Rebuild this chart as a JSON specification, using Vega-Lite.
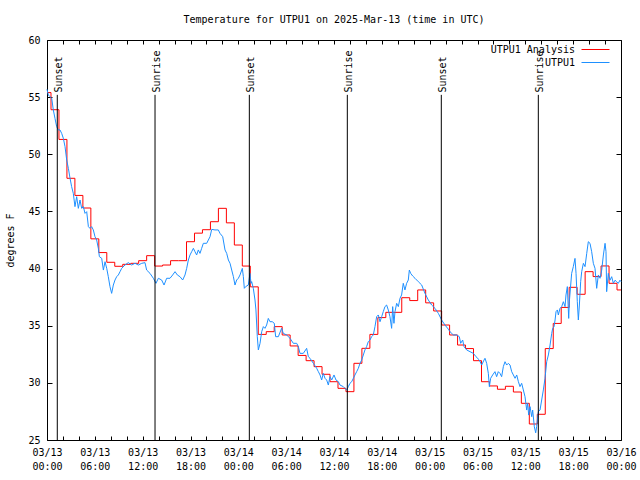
{
  "$schema": "https://vega.github.io/schema/vega-lite/v6.json",
  "width": 574,
  "height": 400,
  "autosize": {"type": "none"},
  "padding": {"left": 47, "top": 40, "right": 19, "bottom": 40},
  "background": "white",
  "title": {"text": "Temperature for UTPU1 on 2025-Mar-13 (time in UTC)", "font": "DejaVu Sans Mono", "fontSize": 10, "fontWeight": "normal", "color": "black", "anchor": "middle", "offset": 10},
  "config": {
    "view": {"stroke": "black", "strokeWidth": 1},
    "axis": {"labelFont": "DejaVu Sans Mono", "labelFontSize": 10, "labelColor": "black", "tickColor": "black", "tickWidth": 1, "domain": false, "grid": false, "titleFont": "DejaVu Sans Mono", "titleFontSize": 10, "titleFontWeight": "normal", "titleColor": "black"},
    "legend": {"labelFont": "DejaVu Sans Mono", "labelFontSize": 10, "labelColor": "black"}
  },
  "datasets": {
    "analysis": [
      {"h":0,"t":55.4},{"h":1,"t":53.9},{"h":2,"t":51.3},{"h":3,"t":47.9},{"h":4,"t":46.4},{"h":5,"t":45.3},{"h":6,"t":42.6},{"h":7,"t":41.4},{"h":8,"t":40.55},{"h":9,"t":40.2},{"h":10,"t":40.37},{"h":11,"t":40.46},{"h":12,"t":40.69},{"h":13,"t":41.13},{"h":14,"t":40.22},{"h":15,"t":40.31},{"h":16,"t":40.69},{"h":17,"t":40.69},{"h":18,"t":42.35},{"h":19,"t":43.1},{"h":20,"t":43.4},{"h":21,"t":44.1},{"h":22,"t":45.27},{"h":23,"t":44.0},{"h":24,"t":42.06},{"h":25,"t":40.22},{"h":26,"t":38.4},{"h":27,"t":34.24},{"h":28,"t":34.48},{"h":29,"t":34.92},{"h":30,"t":34.19},{"h":31,"t":33.23},{"h":32,"t":32.4},{"h":33,"t":31.94},{"h":34,"t":31.42},{"h":35,"t":30.75},{"h":36,"t":30.1},{"h":37,"t":29.52},{"h":38,"t":29.23},{"h":39,"t":31.71},{"h":40,"t":33.02},{"h":41,"t":34.24},{"h":42,"t":35.71},{"h":43,"t":36.17},{"h":44,"t":36.17},{"h":45,"t":37.45},{"h":46,"t":37.2},{"h":47,"t":38.13},{"h":48,"t":37.0},{"h":49,"t":36.29},{"h":50,"t":35.06},{"h":51,"t":34.19},{"h":52,"t":33.31},{"h":53,"t":33.0},{"h":54,"t":31.94},{"h":55,"t":30.1},{"h":56,"t":29.73},{"h":57,"t":29.44},{"h":58,"t":29.7},{"h":59,"t":29.2},{"h":60,"t":28.21},{"h":61,"t":26.4},{"h":62,"t":27.25},{"h":63,"t":33.0},{"h":64,"t":35.2},{"h":65,"t":36.6},{"h":66,"t":38.36},{"h":67,"t":37.75},{"h":68,"t":39.73},{"h":69,"t":39.3},{"h":70,"t":40.23},{"h":71,"t":38.71},{"h":72,"t":38.13}
    ],
    "obs": [
      {"h":0.0,"t":55.68},{"h":0.17,"t":55.19},{"h":0.38,"t":55.04},{"h":0.59,"t":54.9},{"h":0.79,"t":53.88},{"h":1.0,"t":53.15},{"h":1.21,"t":52.42},{"h":1.42,"t":52.13},{"h":1.63,"t":52.13},{"h":1.84,"t":51.83},{"h":2.05,"t":51.4},{"h":2.26,"t":50.67},{"h":2.47,"t":49.5},{"h":2.68,"t":48.77},{"h":2.89,"t":47.9},{"h":3.09,"t":47.17},{"h":3.3,"t":46.58},{"h":3.51,"t":45.42},{"h":3.72,"t":46.29},{"h":3.93,"t":45.27},{"h":4.14,"t":46.0},{"h":4.35,"t":45.27},{"h":4.56,"t":45.42},{"h":4.77,"t":44.83},{"h":4.98,"t":44.98},{"h":5.19,"t":43.67},{"h":5.39,"t":43.52},{"h":5.6,"t":43.67},{"h":5.81,"t":43.38},{"h":6.02,"t":42.79},{"h":6.23,"t":42.5},{"h":6.44,"t":41.77},{"h":6.57,"t":41.04},{"h":6.86,"t":40.9},{"h":7.07,"t":39.87},{"h":7.28,"t":40.6},{"h":7.49,"t":40.02},{"h":7.69,"t":39.29},{"h":7.9,"t":38.42},{"h":8.11,"t":37.83},{"h":8.32,"t":38.56},{"h":8.53,"t":39.0},{"h":8.74,"t":39.29},{"h":8.95,"t":39.44},{"h":9.16,"t":39.73},{"h":9.37,"t":40.02},{"h":9.78,"t":40.31},{"h":10.2,"t":40.52},{"h":10.62,"t":40.31},{"h":11.04,"t":40.46},{"h":11.46,"t":40.31},{"h":11.88,"t":40.46},{"h":12.29,"t":40.52},{"h":12.5,"t":39.87},{"h":12.92,"t":39.58},{"h":13.34,"t":39.15},{"h":13.67,"t":38.71},{"h":13.97,"t":39.15},{"h":14.38,"t":39.0},{"h":14.68,"t":38.56},{"h":15.01,"t":39.15},{"h":15.43,"t":39.15},{"h":15.76,"t":39.44},{"h":16.06,"t":39.73},{"h":16.35,"t":39.44},{"h":16.68,"t":39.29},{"h":17.02,"t":39.0},{"h":17.31,"t":39.44},{"h":17.52,"t":40.02},{"h":17.73,"t":40.75},{"h":17.94,"t":41.19},{"h":18.15,"t":41.48},{"h":18.36,"t":41.77},{"h":18.56,"t":41.48},{"h":18.77,"t":41.19},{"h":18.98,"t":41.63},{"h":19.19,"t":41.33},{"h":19.4,"t":41.77},{"h":19.61,"t":42.21},{"h":20.03,"t":42.21},{"h":20.45,"t":42.79},{"h":20.66,"t":43.43},{"h":21.07,"t":43.38},{"h":21.49,"t":43.38},{"h":21.7,"t":43.08},{"h":22.04,"t":42.79},{"h":22.33,"t":41.63},{"h":22.54,"t":41.33},{"h":22.75,"t":40.75},{"h":22.96,"t":40.46},{"h":23.17,"t":39.87},{"h":23.38,"t":39.29},{"h":23.58,"t":38.56},{"h":23.79,"t":39.0},{"h":24.0,"t":39.15},{"h":24.21,"t":39.44},{"h":24.5,"t":40.02},{"h":24.63,"t":39.29},{"h":24.75,"t":38.27},{"h":24.92,"t":38.42},{"h":25.25,"t":38.56},{"h":25.46,"t":39.58},{"h":25.59,"t":38.71},{"h":25.67,"t":38.86},{"h":25.88,"t":38.27},{"h":26.09,"t":37.25},{"h":26.21,"t":36.38},{"h":26.38,"t":34.04},{"h":26.51,"t":32.88},{"h":26.72,"t":33.46},{"h":26.93,"t":34.48},{"h":27.14,"t":34.92},{"h":27.34,"t":34.77},{"h":27.55,"t":35.06},{"h":27.76,"t":35.64},{"h":27.97,"t":35.35},{"h":28.26,"t":35.35},{"h":28.51,"t":35.21},{"h":28.68,"t":34.04},{"h":29.02,"t":34.04},{"h":29.43,"t":34.77},{"h":29.64,"t":34.33},{"h":30.06,"t":34.19},{"h":30.48,"t":33.9},{"h":30.9,"t":33.46},{"h":31.32,"t":33.46},{"h":31.53,"t":33.17},{"h":31.73,"t":32.58},{"h":32.15,"t":32.58},{"h":32.57,"t":33.02},{"h":32.78,"t":32.29},{"h":32.99,"t":32.15},{"h":33.41,"t":31.71},{"h":33.83,"t":31.27},{"h":34.04,"t":30.98},{"h":34.25,"t":30.69},{"h":34.45,"t":30.25},{"h":34.66,"t":30.83},{"h":34.87,"t":30.4},{"h":35.08,"t":30.25},{"h":35.29,"t":29.81},{"h":35.5,"t":30.54},{"h":35.71,"t":30.25},{"h":36.0,"t":30.69},{"h":36.25,"t":30.25},{"h":36.55,"t":30.1},{"h":36.75,"t":29.81},{"h":37.17,"t":29.67},{"h":37.38,"t":29.52},{"h":37.59,"t":29.38},{"h":37.8,"t":29.67},{"h":38.0,"t":29.96},{"h":38.22,"t":30.1},{"h":38.43,"t":30.4},{"h":38.63,"t":30.69},{"h":38.84,"t":30.98},{"h":39.05,"t":31.27},{"h":39.26,"t":31.71},{"h":39.47,"t":32.0},{"h":39.68,"t":32.44},{"h":39.88,"t":32.88},{"h":40.09,"t":33.17},{"h":40.3,"t":33.6},{"h":40.51,"t":33.75},{"h":40.72,"t":34.04},{"h":40.93,"t":34.19},{"h":41.14,"t":34.92},{"h":41.35,"t":35.79},{"h":41.56,"t":35.94},{"h":41.77,"t":35.35},{"h":41.98,"t":35.79},{"h":42.18,"t":36.23},{"h":42.39,"t":36.67},{"h":42.6,"t":36.81},{"h":42.81,"t":36.38},{"h":43.02,"t":35.79},{"h":43.23,"t":34.77},{"h":43.36,"t":36.67},{"h":43.52,"t":35.21},{"h":43.65,"t":36.23},{"h":43.86,"t":36.96},{"h":44.07,"t":36.67},{"h":44.28,"t":37.4},{"h":44.48,"t":37.69},{"h":44.69,"t":38.71},{"h":44.9,"t":38.13},{"h":45.11,"t":38.71},{"h":45.32,"t":39.0},{"h":45.45,"t":39.87},{"h":45.62,"t":39.58},{"h":45.87,"t":39.35},{"h":46.16,"t":39.15},{"h":46.58,"t":38.85},{"h":47.0,"t":38.56},{"h":47.41,"t":37.83},{"h":47.83,"t":37.25},{"h":48.25,"t":36.81},{"h":48.67,"t":36.52},{"h":49.09,"t":36.08},{"h":49.5,"t":35.5},{"h":49.92,"t":35.06},{"h":50.34,"t":34.7},{"h":50.55,"t":34.48},{"h":50.97,"t":34.19},{"h":51.39,"t":34.19},{"h":51.72,"t":34.04},{"h":51.89,"t":33.46},{"h":52.14,"t":33.75},{"h":52.31,"t":33.17},{"h":52.64,"t":32.88},{"h":53.06,"t":32.73},{"h":53.48,"t":32.58},{"h":53.81,"t":32.29},{"h":54.23,"t":32.0},{"h":54.52,"t":31.56},{"h":54.82,"t":32.0},{"h":54.94,"t":32.15},{"h":55.15,"t":31.71},{"h":55.36,"t":30.83},{"h":55.49,"t":29.67},{"h":55.65,"t":30.4},{"h":55.9,"t":30.69},{"h":56.19,"t":30.98},{"h":56.4,"t":30.54},{"h":56.61,"t":30.98},{"h":56.82,"t":30.83},{"h":57.03,"t":30.54},{"h":57.24,"t":31.42},{"h":57.45,"t":31.85},{"h":57.66,"t":31.56},{"h":57.87,"t":31.71},{"h":58.08,"t":31.56},{"h":58.29,"t":30.98},{"h":58.5,"t":30.69},{"h":58.71,"t":30.4},{"h":58.92,"t":30.69},{"h":59.13,"t":30.1},{"h":59.33,"t":29.67},{"h":59.54,"t":29.96},{"h":59.75,"t":29.38},{"h":59.96,"t":28.79},{"h":60.17,"t":27.62},{"h":60.29,"t":28.21},{"h":60.42,"t":27.18},{"h":60.59,"t":27.92},{"h":60.8,"t":27.04},{"h":60.92,"t":27.62},{"h":61.13,"t":26.16},{"h":61.3,"t":25.63},{"h":61.42,"t":26.17},{"h":61.63,"t":27.48},{"h":61.84,"t":27.62},{"h":62.05,"t":28.5},{"h":62.26,"t":29.38},{"h":62.47,"t":30.4},{"h":62.68,"t":31.85},{"h":62.89,"t":32.44},{"h":63.1,"t":33.31},{"h":63.31,"t":34.33},{"h":63.43,"t":34.77},{"h":63.6,"t":34.92},{"h":63.73,"t":35.5},{"h":63.85,"t":36.23},{"h":64.02,"t":36.38},{"h":64.14,"t":35.94},{"h":64.35,"t":36.52},{"h":64.56,"t":36.67},{"h":64.77,"t":37.1},{"h":64.98,"t":36.67},{"h":65.1,"t":37.69},{"h":65.27,"t":38.42},{"h":65.44,"t":35.64},{"h":65.52,"t":37.1},{"h":65.69,"t":38.56},{"h":65.81,"t":39.58},{"h":66.02,"t":40.17},{"h":66.23,"t":40.89},{"h":66.36,"t":39.58},{"h":66.52,"t":37.1},{"h":66.65,"t":35.5},{"h":66.78,"t":36.81},{"h":66.94,"t":38.85},{"h":67.07,"t":39.73},{"h":67.28,"t":40.46},{"h":67.49,"t":40.17},{"h":67.7,"t":41.33},{"h":67.9,"t":42.35},{"h":68.11,"t":42.21},{"h":68.32,"t":41.48},{"h":68.53,"t":40.46},{"h":68.74,"t":40.02},{"h":68.95,"t":38.27},{"h":69.16,"t":39.44},{"h":69.37,"t":39.15},{"h":69.58,"t":39.87},{"h":69.79,"t":41.19},{"h":70.0,"t":42.21},{"h":70.12,"t":41.48},{"h":70.2,"t":37.98},{"h":70.41,"t":39.58},{"h":70.62,"t":38.98},{"h":70.83,"t":39.29},{"h":71.04,"t":38.71},{"h":71.25,"t":38.98},{"h":71.45,"t":38.85},{"h":71.66,"t":38.71},{"h":71.87,"t":38.98},{"h":72.0,"t":38.85}
    ],
    "sun": [
      {"h":1.29,"label":"Sunset"},{"h":13.55,"label":"Sunrise"},{"h":25.38,"label":"Sunset"},{"h":37.67,"label":"Sunrise"},{"h":49.46,"label":"Sunset"},{"h":61.63,"label":"Sunrise"}
    ]
  },
  "layer": [
    {
      "data": {"name": "analysis"},
      "mark": {"type": "line", "interpolate": "step", "strokeWidth": 1},
      "encoding": {
        "x": {"field": "h", "type": "quantitative", "scale": {"domain": [0, 72], "nice": false, "zero": false},
              "axis": {"orient": "bottom", "title": null, "values": [0,2,4,6,8,10,12,14,16,18,20,22,24,26,28,30,32,34,36,38,40,42,44,46,48,50,52,54,56,58,60,62,64,66,68,70,72],
                       "labelExpr": "datum.value % 6 == 0 ? ['03/' + (13 + floor(datum.value / 24)), (datum.value % 24 < 10 ? '0' : '') + (datum.value % 24) + ':00'] : ''",
                       "tickSize": -4, "labelPadding": 11, "labelBaseline": "top", "labelLineHeight": 14, "labelOverlap": false, "labelFlush": false}},
        "y": {"field": "t", "type": "quantitative", "scale": {"domain": [25, 60], "nice": false, "zero": false},
              "axis": {"orient": "left", "title": "degrees F", "values": [25,30,35,40,45,50,55,60], "tickSize": -5, "labelPadding": 12, "titlePadding": 12}},
        "color": {"datum": "UTPU1 Analysis", "type": "nominal",
                  "scale": {"domain": ["UTPU1 Analysis", "UTPU1"], "range": ["#ff0000", "#1e90ff"]},
                  "legend": {"title": null, "orient": "none", "legendX": 541, "legendY": 2, "padding": 0, "symbolType": "M-2,0H2", "symbolSize": 196, "symbolStrokeWidth": 1, "symbolFillColor": "transparent", "rowPadding": 0, "symbolOffset": 0, "labelAlign": "right", "labelOffset": -28}}
      }
    },
    {
      "data": {"name": "obs"},
      "mark": {"type": "line", "strokeWidth": 1},
      "encoding": {
        "x": {"field": "h", "type": "quantitative", "scale": {"domain": [0, 72], "nice": false, "zero": false},
              "axis": {"orient": "top", "title": null, "labels": false, "values": [0,2,4,6,8,10,12,14,16,18,20,22,24,26,28,30,32,34,36,38,40,42,44,46,48,50,52,54,56,58,60,62,64,66,68,70,72], "tickSize": -4}},
        "y": {"field": "t", "type": "quantitative", "scale": {"domain": [25, 60], "nice": false, "zero": false},
              "axis": {"orient": "right", "title": null, "labels": false, "values": [25,30,35,40,45,50,55,60], "tickSize": -5}},
        "color": {"datum": "UTPU1", "type": "nominal"}
      }
    },
    {
      "data": {"name": "sun"},
      "mark": {"type": "rule", "color": "black", "strokeWidth": 1},
      "encoding": {
        "x": {"field": "h", "type": "quantitative", "axis": null},
        "y": {"datum": 25, "type": "quantitative", "axis": null},
        "y2": {"datum": 55.2}
      }
    },
    {
      "data": {"name": "sun"},
      "mark": {"type": "text", "angle": 270, "align": "left", "baseline": "middle", "font": "DejaVu Sans Mono", "fontSize": 10, "color": "black", "dy": 2},
      "encoding": {
        "x": {"field": "h", "type": "quantitative", "axis": null},
        "y": {"datum": 55.4, "type": "quantitative", "axis": null},
        "text": {"field": "label"}
      }
    }
  ],
  "resolve": {"axis": {"x": "independent", "y": "independent"}}
}
